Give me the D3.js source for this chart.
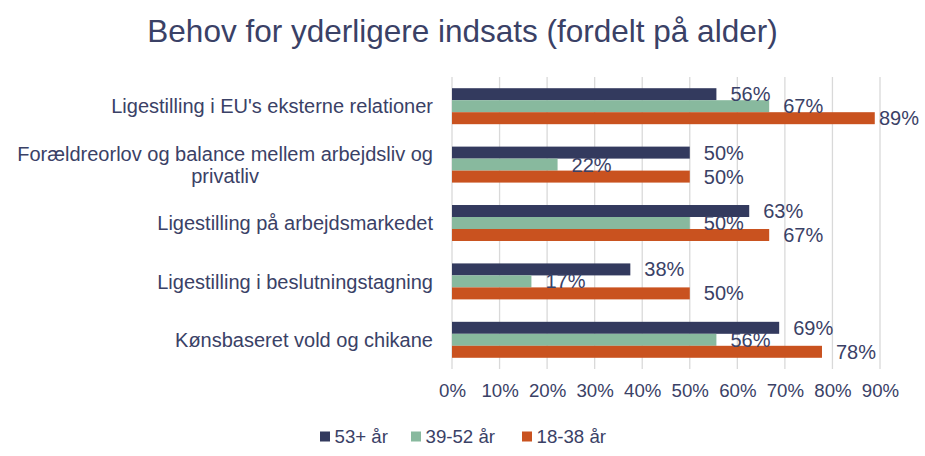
<!DOCTYPE html>
<html>
<head>
<meta charset="utf-8">
<script src="https://cdn.jsdelivr.net/npm/d3@7"></script>
<style>
  html, body { margin: 0; padding: 0; background: #ffffff; }
  svg { display: block; font-family: "Liberation Sans", Arial, sans-serif; }
</style>
</head>
<body>
<svg id="chart" width="925" height="456"></svg>
<script>
const title = "Behov for yderligere indsats (fordelt på alder)";
const categories = [
  "Ligestilling i EU's eksterne relationer",
  "Forældreorlov og balance mellem arbejdsliv og privatliv",
  "Ligestilling på arbejdsmarkedet",
  "Ligestilling i beslutningstagning",
  "Kønsbaseret vold og chikane"
];
const seriesNames = ["53+ år", "39-52 år", "18-38 år"];
const values53 = [0.556, 0.500, 0.625, 0.375, 0.688];
const values39 = [0.667, 0.222, 0.500, 0.167, 0.556];
const values18 = [0.889, 0.500, 0.667, 0.500, 0.778];
const tickValues = [0, 0.1, 0.2, 0.3, 0.4, 0.5, 0.6, 0.7, 0.8, 0.9];
const colors = ["#333A5E", "#88B99E", "#C9521F"];
const textColor = "#3A4166";

const seriesValues = [values53, values39, values18];
const svg = d3.select("#chart");
const pct = v => Math.round(v * 100) + "%";

const x = d3.scaleLinear().domain([0, 0.9]).range([452, 880]);
const y = d3.scaleBand().domain(categories).range([77, 369]).paddingInner(0.384).paddingOuter(0.192);
const ySub = d3.scaleBand().domain(seriesNames).range([0, y.bandwidth()]);

const measure = svg.append("text").attr("visibility", "hidden");
function textW(t, size) { measure.attr("font-size", size).text(t); return measure.node().getComputedTextLength(); }

// title
svg.append("text")
  .attr("x", 462.5).attr("y", 42)
  .attr("text-anchor", "middle")
  .attr("font-size", "31.5px")
  .attr("fill", textColor)
  .text(title);

// gridlines
svg.append("g").selectAll("line").data(tickValues).join("line")
  .attr("x1", d => x(d)).attr("x2", d => x(d))
  .attr("y1", 77).attr("y2", 369)
  .attr("stroke", "#D9D9D9").attr("stroke-width", 1.3);

// x axis labels
const xAxis = d3.axisBottom(x).tickValues(tickValues).tickFormat(d3.format(".0%")).tickSize(0).tickPadding(0);
const gx = svg.append("g").attr("transform", "translate(0,384)").call(xAxis);
gx.select(".domain").remove();
gx.selectAll("text")
  .attr("font-size", "18.67px")
  .attr("font-family", "Liberation Sans, Arial, sans-serif")
  .attr("fill", textColor)
  .attr("dy", "0.71em");

// bars
const groups = svg.append("g").selectAll("g").data(categories).join("g")
  .attr("transform", d => `translate(0,${y(d)})`);

groups.each(function(cat, i) {
  const g = d3.select(this);
  seriesNames.forEach((s, j) => {
    const v = seriesValues[j][i];
    g.append("rect")
      .attr("x", x(0)).attr("y", ySub(s))
      .attr("width", x(v) - x(0)).attr("height", ySub.bandwidth())
      .attr("fill", colors[j]);
  });
});
const labelSize = "20px";
groups.each(function(cat, i) {
  const g = d3.select(this);
  seriesNames.forEach((s, j) => {
    const v = seriesValues[j][i];
    const txt = pct(v);
    const w = textW(txt, labelSize);
    g.append("text")
      .attr("x", Math.min(x(v) + 14, 919 - w))
      .attr("y", ySub(s) + ySub.bandwidth() / 2 + 7)
      .attr("font-size", labelSize)
      .attr("fill", textColor)
      .text(txt);
  });
});

// category labels with wrapping
const catSize = "20px";
const labelRight = 433;
const maxW = 425;
const lineH = 21.7;
categories.forEach(cat => {
  const words = cat.split(" ");
  const lines = [];
  let cur = "";
  words.forEach(w => {
    const test = cur ? cur + " " + w : w;
    if (textW(test, catSize) > maxW && cur) { lines.push(cur); cur = w; } else { cur = test; }
  });
  lines.push(cur);
  const widths = lines.map(l => textW(l, catSize));
  const blockW = d3.max(widths);
  const cy = y(cat) + y.bandwidth() / 2;
  const firstBase = cy - (lines.length - 1) * lineH / 2 + 7.2;
  const t = svg.append("text")
    .attr("font-size", catSize)
    .attr("fill", textColor)
    .attr("text-anchor", lines.length > 1 ? "middle" : "end");
  lines.forEach((ln, k) => {
    t.append("tspan")
      .attr("x", lines.length > 1 ? labelRight - blockW / 2 : labelRight)
      .attr("y", firstBase + k * lineH)
      .text(ln);
  });
});
measure.remove();

// legend
const legendX = [320, 411, 522];
const lg = svg.append("g");
seriesNames.forEach((s, j) => {
  lg.append("rect").attr("x", legendX[j]).attr("y", 431.5).attr("width", 10).attr("height", 10).attr("fill", colors[j]);
  lg.append("text").attr("x", legendX[j] + 14.5).attr("y", 443)
    .attr("font-size", "18.67px").attr("fill", textColor).text(s);
});
</script>
</body>
</html>
